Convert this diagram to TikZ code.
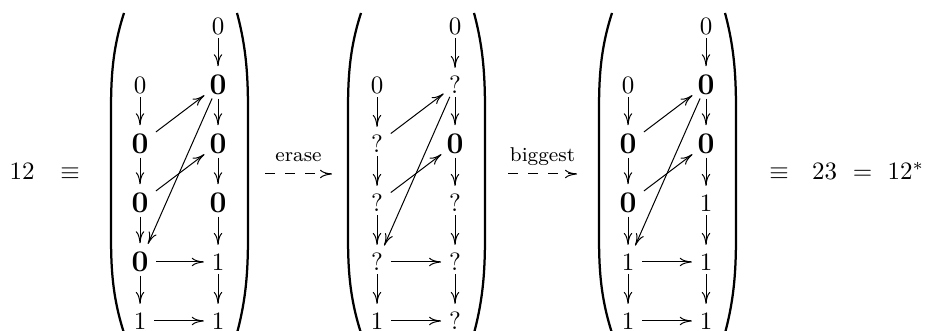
\documentclass[tikz,border=0pt]{standalone}
\usepackage{amsmath}
\usepackage{amssymb}
\usepackage{tikz}
\usetikzlibrary{arrows.meta}

\begin{document}
\begin{tikzpicture}[
    x=0.4pt, y=-0.4pt,
    >={Computer Modern Rightarrow[length=4.8pt,width=3.4pt]},
    entry/.style={inner xsep=3pt, inner ysep=0pt, text height=6.5pt, text depth=0pt},
    bz/.style={entry, font=\large, text height=7.8pt},
    eqtxt/.style={inner sep=0pt, anchor=base},
    arr/.style={->, line width=0.4pt},
    varr/.style={arr, shorten <=1.4pt, shorten >=3.4pt},
    darr/.style={arr, shorten <=1.2pt},
    dasharr/.style={->, line width=0.4pt, dash pattern=on 4pt off 4pt},
    paren/.style={line width=0.9pt},
    lbl/.style={font=\footnotesize, inner sep=0pt, anchor=base, yshift=5pt}
]

\useasboundingbox (0,0) rectangle (927,331);

% ---------------- EQUACIO ----------------

\node[eqtxt, anchor=base west] (lhs) at (9,180) {$12$};
\node[eqtxt] (eqvA) at (70,180) {$\equiv$};

\node[eqtxt] (eqvB) at (779,180) {$\equiv$};
\node[eqtxt] (rhs) at (824.5,180) {$23$};
\node[eqtxt] (eqC) at (862.5,180) {$=$};
\node[eqtxt, anchor=base west] (star) at (887,180) {$12^*$};

% ---------------- MATRIU 1 ----------------

\draw[paren] (124,13) .. controls (112,50) and (111,80) .. (111,112)
    -- (111,234) .. controls (111,266) and (112,296) .. (124,333);
\draw[paren] (237,13) .. controls (247,50) and (248,80) .. (248,112)
    -- (248,234) .. controls (248,266) and (247,296) .. (237,333);

\node[entry] (a0r) at (218,26)  {$0$};
\node[entry] (a1l) at (140,85)  {$0$};
\node[bz]    (a1r) at (218,85)  {$\mathbf{0}$};
\node[bz]    (a2l) at (140,144) {$\mathbf{0}$};
\node[bz]    (a2r) at (218,144) {$\mathbf{0}$};
\node[bz]    (a3l) at (140,203) {$\mathbf{0}$};
\node[bz]    (a3r) at (218,203) {$\mathbf{0}$};
\node[bz]    (a4l) at (140,262) {$\mathbf{0}$};
\node[entry] (a4r) at (218,262) {$1$};
\node[entry] (a5l) at (140,321) {$1$};
\node[entry] (a5r) at (218,321) {$1$};

% erase
\coordinate (erA) at (265,174);
\coordinate (erB) at (332,174);
\draw[dasharr] (erA) -- (erB)
    node[midway, lbl] {erase};

% ---------------- MATRIU 2 ----------------

\draw[paren] (361,13) .. controls (349,50) and (348,80) .. (348,112)
    -- (348,234) .. controls (348,266) and (349,296) .. (361,333);
\draw[paren] (474,13) .. controls (484,50) and (485,80) .. (485,112)
    -- (485,234) .. controls (485,266) and (484,296) .. (474,333);

\node[entry] (b0r) at (455,26)  {$0$};
\node[entry] (b1l) at (377,85)  {$0$};
\node[entry] (b1r) at (455,85)  {$?$};
\node[entry] (b2l) at (377,144) {$?$};
\node[bz]    (b2r) at (455,144) {$\mathbf{0}$};
\node[entry] (b3l) at (377,203) {$?$};
\node[entry] (b3r) at (455,203) {$?$};
\node[entry] (b4l) at (377,262) {$?$};
\node[entry] (b4r) at (455,262) {$?$};
\node[entry] (b5l) at (377,321) {$1$};
\node[entry] (b5r) at (455,321) {$?$};

% biggest
\coordinate (bgA) at (508,174);
\coordinate (bgB) at (577,174);
\draw[dasharr] (bgA) -- (bgB)
    node[midway, lbl] {biggest};

% ---------------- MATRIU 3 ----------------

\draw[paren] (612,13) .. controls (600,50) and (599,80) .. (599,112)
    -- (599,234) .. controls (599,266) and (600,296) .. (612,333);
\draw[paren] (725,13) .. controls (735,50) and (736,80) .. (736,112)
    -- (736,234) .. controls (736,266) and (735,296) .. (725,333);

\node[entry] (c0r) at (706,26)  {$0$};
\node[entry] (c1l) at (628,85)  {$0$};
\node[bz]    (c1r) at (706,85)  {$\mathbf{0}$};
\node[bz]    (c2l) at (628,144) {$\mathbf{0}$};
\node[bz]    (c2r) at (706,144) {$\mathbf{0}$};
\node[bz]    (c3l) at (628,203) {$\mathbf{0}$};
\node[entry] (c3r) at (706,203) {$1$};
\node[entry] (c4l) at (628,262) {$1$};
\node[entry] (c4r) at (706,262) {$1$};
\node[entry] (c5l) at (628,321) {$1$};
\node[entry] (c5r) at (706,321) {$1$};

% ---------------- FLETXES ----------------

\foreach \m in {a,b,c} {
    % columna esquerra
    \draw[varr] (\m1l) -- (\m2l);
    \draw[varr] (\m2l) -- (\m3l);
    \draw[varr] (\m3l) -- (\m4l);
    \draw[varr] (\m4l) -- (\m5l);
    % columna dreta
    \draw[varr] (\m0r) -- (\m1r);
    \draw[varr] (\m1r) -- (\m2r);
    \draw[varr] (\m2r) -- (\m3r);
    \draw[varr] (\m3r) -- (\m4r);
    \draw[varr] (\m4r) -- (\m5r);
    % horitzontals
    \draw[arr] (\m4l) -- (\m4r);
    \draw[arr] (\m5l) -- (\m5r);
    % diagonals
    \draw[darr] (\m2l) -- (\m1r);
    \draw[darr] (\m3l) -- (\m2r);
    \draw[varr] (\m1r) -- (\m4l);
}

\end{tikzpicture}
\end{document}
